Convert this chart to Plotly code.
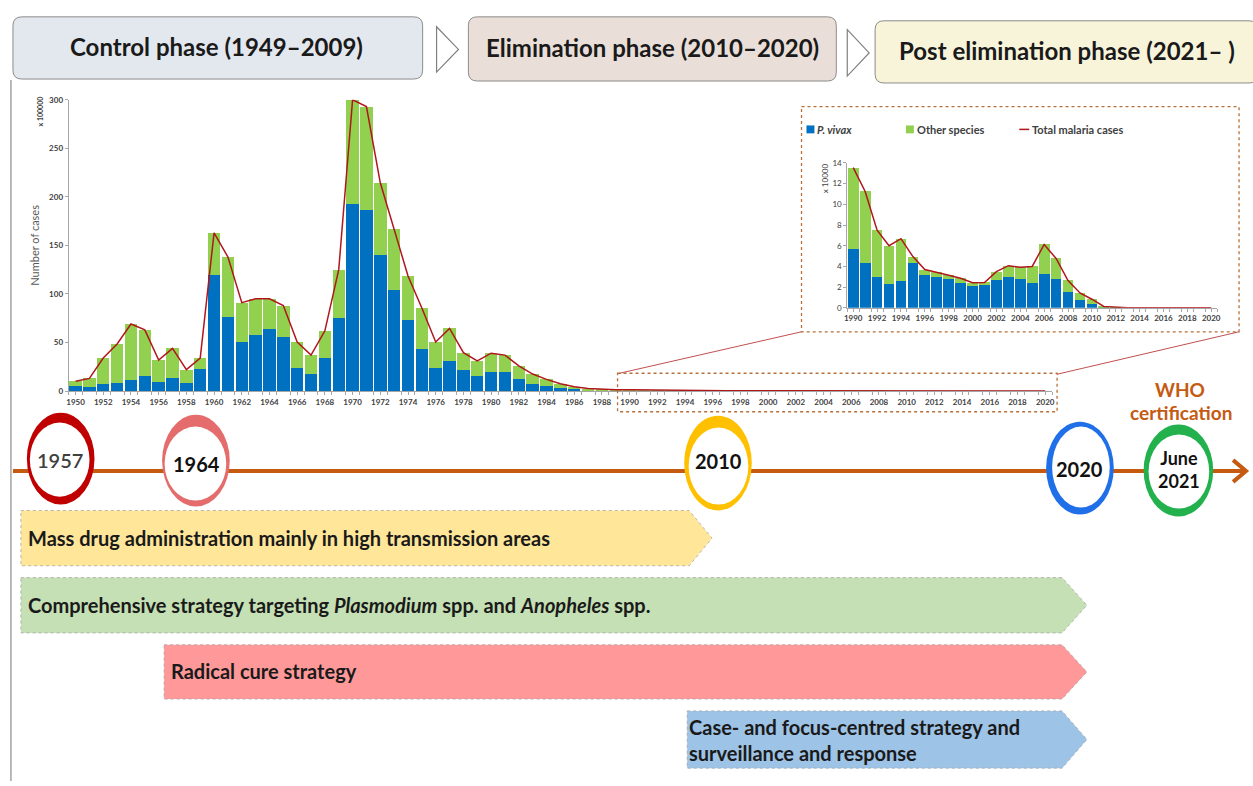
import plotly.graph_objects as go

# ---------------- data ----------------
years_main = list(range(1950, 1990))
# total malaria cases, x 100000
total_main = [10, 13, 34, 48.5, 69, 63, 32, 44, 22, 34,
              163, 138, 91, 95, 95, 88, 50.5, 37, 62, 125,
              300, 293, 214.5, 166.5, 118.5, 85.5, 50.5, 64.5, 39.5, 31,
              39, 37, 26, 17.5, 12, 7.5, 4.5, 2.5, 1.6, 1.4]
# P. vivax cases, x 100000
vivax_main = [5, 4, 7.5, 8, 11, 15, 9, 13, 8.5, 23,
              119, 76, 51, 58, 64, 56, 24, 18, 34.5, 75,
              192.5, 186, 140, 104, 73.5, 43.5, 24, 31, 22, 15,
              20, 20, 12, 7, 5, 3, 2, 1.2, 0.9, 0.7]

years_inset = list(range(1990, 2021))
# total malaria cases, x 10000
total_inset = [13.55, 11.25, 7.5, 6.0, 6.68, 4.95, 3.7, 3.45, 3.15, 2.85,
               2.42, 2.45, 3.5, 4.07, 3.91, 4.0, 6.12, 4.77, 2.64, 1.43,
               0.83, 0.13, 0.03, 0, 0, 0, 0, 0, 0, 0, 0]
# P. vivax cases, x 10000
vivax_inset = [5.73, 4.3, 2.93, 2.3, 2.58, 4.33, 3.21, 2.93, 2.8, 2.35,
               2.13, 2.16, 2.64, 2.99, 2.74, 2.42, 3.28, 2.74, 1.56, 0.76,
               0.38, 0.06, 0.01, 0, 0, 0, 0, 0, 0, 0, 0]

main_ticks = list(range(1950, 2021, 2))
inset_ticks = list(range(1990, 2021, 2))

phases = ["Control phase (1949–2009)", "Elimination phase (2010–2020)",
          "Post elimination phase (2021– )"]
milestones = ["1957", "1964", "2010", "2020", "June<br>2021"]
strategies = ["Mass drug administration mainly in high transmission areas",
              "Comprehensive strategy targeting <i>Plasmodium</i> spp. and <i>Anopheles</i> spp.",
              "Radical cure strategy",
              "Case- and focus-centred strategy and<br>surveillance and response"]

# ---------------- styles ----------------
BLUE = "#0070C0"
GREEN = "#92D050"
RED = "#B0161C"
ORANGE = "#C55A11"
FONT = "Lato"
W, H = 1253, 786


def X(p):
    return p / W


def Y(p):
    return 1 - p / H


# unit conversion for main chart (x10000 -> x100000)
main_years = years_main + years_inset
main_total = total_main + [v / 10 for v in total_inset]
main_vivax = vivax_main + [v / 10 for v in vivax_inset]
main_other = [t - v for t, v in zip(main_total, main_vivax)]
inset_other = [t - v for t, v in zip(total_inset, vivax_inset)]

fig = go.Figure()
fig.add_bar(x=main_years, y=main_vivax, marker=dict(color=BLUE, line=dict(width=0)),
            name="P. vivax", showlegend=False, xaxis="x", yaxis="y")
fig.add_bar(x=main_years, y=main_other, marker=dict(color=GREEN, line=dict(width=0)),
            name="Other species", showlegend=False, xaxis="x", yaxis="y")
fig.add_scatter(x=main_years, y=main_total, mode="lines", line=dict(color=RED, width=1.5),
                name="Total malaria cases", showlegend=False, xaxis="x", yaxis="y", cliponaxis=False)

fig.add_bar(x=years_inset, y=vivax_inset, marker=dict(color=BLUE, line=dict(width=0)),
            name="P. vivax", showlegend=False, xaxis="x2", yaxis="y2")
fig.add_bar(x=years_inset, y=inset_other, marker=dict(color=GREEN, line=dict(width=0)),
            name="Other species", showlegend=False, xaxis="x2", yaxis="y2")
fig.add_scatter(x=years_inset, y=total_inset, mode="lines", line=dict(color=RED, width=1.5),
                name="Total malaria cases", showlegend=False, xaxis="x2", yaxis="y2", cliponaxis=False)

tickfont = dict(family=FONT, size=8, color="#404040", weight="bold")
axcol = "#A6A6A6"

fig.update_layout(
    width=W, height=H, margin=dict(l=0, r=0, t=0, b=0),
    paper_bgcolor="white", plot_bgcolor="rgba(0,0,0,0)",
    barmode="stack", bargap=0.1, showlegend=False,
    font=dict(family=FONT),
    xaxis=dict(domain=[X(66), X(1055)], range=[1949.5, 2020.5], anchor="y",
               tickvals=main_ticks, ticktext=[str(t) for t in main_ticks],
               tickfont=tickfont, tickangle=0, showline=True, linecolor=axcol,
               ticks="outside", ticklen=3, tickcolor=axcol, showgrid=False, zeroline=False,
               minor=dict(dtick=1, tick0=1949.5, ticks="outside", ticklen=3, tickcolor=axcol)),
    yaxis=dict(domain=[Y(391), Y(96)], range=[0, 300], anchor="x",
               tickvals=[0, 50, 100, 150, 200, 250, 300], tickfont=tickfont,
               showline=True, linecolor=axcol, ticks="outside", ticklen=3, tickcolor=axcol,
               showgrid=False, zeroline=False),
    xaxis2=dict(domain=[X(849), X(1221)], range=[1989.5, 2020.5], anchor="y2",
                tickvals=inset_ticks, ticktext=[str(t) for t in inset_ticks],
                tickfont=tickfont, tickangle=0, showline=True, linecolor=axcol,
                ticks="outside", ticklen=3, tickcolor=axcol, showgrid=False, zeroline=False,
                minor=dict(dtick=1, tick0=1989.5, ticks="outside", ticklen=3, tickcolor=axcol)),
    yaxis2=dict(domain=[Y(306.7), Y(160)], range=[0, 14], anchor="x2", dtick=2,
                tickfont=dict(family=FONT, size=8, color="#404040"),
                showline=True, linecolor=axcol, ticks="outside", ticklen=3, tickcolor=axcol,
                showgrid=False, zeroline=False),
)

shapes = []
annotations = []


def rrect(x0, y0, x1, y1, r):
    return (f"M {X(x0 + r)},{Y(y0)} L {X(x1 - r)},{Y(y0)} Q {X(x1)},{Y(y0)} {X(x1)},{Y(y0 + r)} "
            f"L {X(x1)},{Y(y1 - r)} Q {X(x1)},{Y(y1)} {X(x1 - r)},{Y(y1)} "
            f"L {X(x0 + r)},{Y(y1)} Q {X(x0)},{Y(y1)} {X(x0)},{Y(y1 - r)} "
            f"L {X(x0)},{Y(y0 + r)} Q {X(x0)},{Y(y0)} {X(x0 + r)},{Y(y0)} Z")


def path(pts, close=True):
    s = "M " + " L ".join(f"{X(a)},{Y(b)}" for a, b in pts)
    return s + (" Z" if close else "")


def ptext(x, y, text, size, color="#1a1a1a", weight="bold", xanchor="center", style="normal", angle=0):
    annotations.append(dict(x=X(x), y=Y(y), xref="paper", yref="paper", text=text, showarrow=False,
                            xanchor=xanchor, yanchor="middle", textangle=angle,
                            align="left" if xanchor == "left" else "center",
                            font=dict(family=FONT, size=size, color=color, weight=weight, style=style)))


# left frame line
shapes.append(dict(type="line", xref="paper", yref="paper", x0=X(8), x1=X(8), y0=Y(76), y1=Y(786),
                   line=dict(color="#8C8C8C", width=1.2)))

# header boxes
header = [(10, 12, 422, 75, "#E3E8EE", 215), (468, 12, 838, 77, "#EADFD8", 653),
          (877, 16, 1262, 79, "#F8F4DA", 1070)]
for (x0, y0, x1, y1, col, tx), label in zip(header, phases):
    shapes.append(dict(type="path", xref="paper", yref="paper", path=rrect(x0, y0, x1, y1, 9),
                       fillcolor=col, line=dict(color="#8C8C8C", width=1)))
    ptext(tx, (y0 + y1) / 2 - 1, label, 24)
for (a, b, c) in [(436, 22, 68), (849, 25, 72)]:
    shapes.append(dict(type="path", xref="paper", yref="paper",
                       path=path([(a, b), (a + 22, (b + c) / 2), (a, c)]),
                       fillcolor="white", line=dict(color="#7F7F7F", width=1.2)))

# inset frame and zoom connectors
dot = dict(color="#B8703A", width=1.3, dash="dot")
shapes.append(dict(type="rect", xref="paper", yref="paper", x0=X(803), x1=X(1243), y0=Y(103), y1=Y(331),
                   fillcolor="white", line=dot, layer="below"))
shapes.append(dict(type="rect", xref="paper", yref="paper", x0=X(618), x1=X(1060), y0=Y(373), y1=Y(412),
                   line=dot, layer="above"))
for (a, b, c, d) in [(620, 373, 803, 331), (1060, 374, 1243, 331)]:
    shapes.append(dict(type="line", xref="paper", yref="paper", x0=X(a), y0=Y(b), x1=X(c), y1=Y(d),
                       line=dict(color="#C0504D", width=1)))

# axis annotations
ptext(32, 243, "Number of cases", 11, color="#595959", weight="normal", angle=-90)
ptext(37, 108, "x 100000", 7, color="#404040", weight="bold", angle=-90)
ptext(826, 175, "x 10000", 8, color="#404040", weight="normal", angle=-90)

# inset legend (manual)
for (sx, col, label, sty) in [(808, BLUE, "P. vivax", "italic"), (908, GREEN, "Other species", "normal")]:
    shapes.append(dict(type="rect", xref="paper", yref="paper", x0=X(sx), x1=X(sx + 8), y0=Y(122), y1=Y(130),
                       fillcolor=col, line=dict(width=0)))
    ptext(sx + 9, 126, label, 11, color="#404040", weight="bold", xanchor="left", style=sty)
shapes.append(dict(type="line", xref="paper", yref="paper", x0=X(1022), x1=X(1032), y0=Y(126), y1=Y(126),
                   line=dict(color=RED, width=1.5)))
ptext(1033, 126, "Total malaria cases", 11, color="#404040", weight="bold", xanchor="left")

# timeline
shapes.append(dict(type="line", xref="paper", yref="paper", x0=X(10), x1=X(1249), y0=Y(472), y1=Y(472),
                   line=dict(color=ORANGE, width=4)))
shapes.append(dict(type="path", xref="paper", yref="paper",
                   path=path([(1237, 461), (1250, 472), (1237, 483)], close=False),
                   line=dict(color=ORANGE, width=4)))

# milestone rings: (outer cx, cy, rx, ry), (inner cx, cy, rx, ry), colour, text centre
rings = [((58, 459.5, 34, 46.5), (57, 460.5, 30, 37.5), "#C00000", (57, 461), "#404040"),
         ((194, 461.5, 34, 46.5), (193.5, 464.5, 31, 37.5), "#E46C6C", (195, 465), "#111111"),
         ((719, 464, 34, 48), (719.5, 467, 30, 39), "#FFC000", (720, 462), "#111111"),
         ((1083, 469, 34, 47), (1084, 468, 29, 41), "#1F6FE8", (1083, 470), "#111111"),
         ((1182, 471.5, 35, 46.5), (1182.5, 472.5, 30.5, 37.5), "#22B14C", (1183, 470), "#111111")]
for (o, i, col, tpos, tcol), label in zip(rings, milestones):
    shapes.append(dict(type="circle", xref="paper", yref="paper", x0=X(o[0] - o[2]), x1=X(o[0] + o[2]),
                       y0=Y(o[1] + o[3]), y1=Y(o[1] - o[3]), fillcolor=col, line=dict(width=0)))
    shapes.append(dict(type="circle", xref="paper", yref="paper", x0=X(i[0] - i[2]), x1=X(i[0] + i[2]),
                       y0=Y(i[1] + i[3]), y1=Y(i[1] - i[3]), fillcolor="white", line=dict(width=0)))
    ptext(tpos[0], tpos[1], label, 20 if "June" not in label else 18, color=tcol,
          weight="bold" if label != "1957" else 600)

ptext(1184, 389, "WHO", 19, color=ORANGE)
ptext(1185, 413, "certification", 19, color=ORANGE)

# strategy arrows
arrows = [(18, 690, 713, 512, 568, "#FFE699", 23, 540),
          (18, 1065, 1090, 580, 636, "#C5E0B4", 23, 608),
          (162, 1065, 1090, 648, 703, "#FF9999", 167, 675),
          (688, 1065, 1090, 715, 773, "#9DC3E6", 688, 744)]
for (x0, x1, tip, y0, y1, col, tx, ty), label in zip(arrows, strategies):
    shapes.append(dict(type="path", xref="paper", yref="paper",
                       path=path([(x0, y0), (x1, y0), (tip, (y0 + y1) / 2), (x1, y1), (x0, y1)]),
                       fillcolor=col, line=dict(color="#A6A6A6", width=0.8, dash="dot")))
    ptext(tx, ty, label, 20, xanchor="left")

fig.update_layout(shapes=shapes, annotations=annotations)
fig.write_html(
    "out.html",
    config={"displayModeBar": False},
    post_script=("document.documentElement.style.cssText='margin:0;padding:0;overflow:hidden;height:786px';"
                 "document.body.style.cssText='margin:0;padding:0;overflow:hidden;height:786px';"),
)
